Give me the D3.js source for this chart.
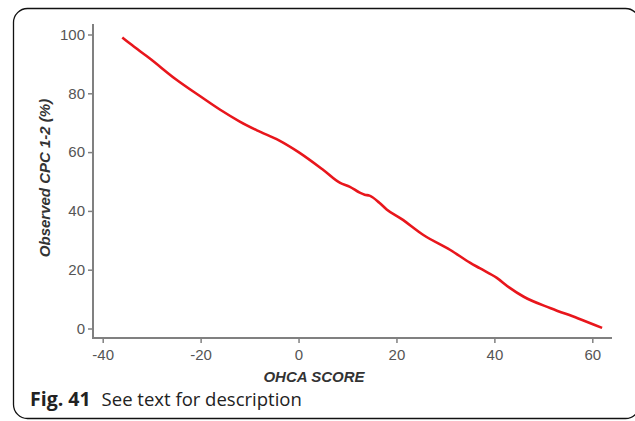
<!DOCTYPE html>
<html><head><meta charset="utf-8">
<script src="https://cdn.jsdelivr.net/npm/d3@7"></script>
<style>html,body{margin:0;padding:0;background:#fff;}svg{display:block;}</style>
</head><body>
<svg id="c" width="635" height="421"></svg>
<script>
const scoreX = [-36, -34.5, -30.5, -25, -20, -16, -12, -8.5, -4, 0, 5, 8.5, 10.5, 12.5, 13.5, 14.5, 16.5, 18, 21, 25.5, 31, 35, 37, 40.5, 43, 46, 51.5, 57, 62];
const cpcY   = [99, 97, 92, 84.7, 78.9, 74.4, 70.4, 67.4, 64, 60, 54, 49.5, 48.2, 46.2, 45.5, 45.2, 42.8, 40.5, 37.3, 31.8, 26.7, 22.4, 20.5, 17.2, 14, 10.8, 6.9, 3.5, 0.2];
const xTicks = [-40, -20, 0, 20, 40, 60];
const yTicks = [0, 20, 40, 60, 80, 100];
const xTitle = "OHCA SCORE";
const yTitle = "Observed CPC 1-2 (%)";
const captionBold = "Fig. 41";
const captionText = "See text for description";

const svg = d3.select("#c");
svg.append("rect").attr("x", 13.5).attr("y", 8.5).attr("width", 626).attr("height", 410)
  .attr("rx", 14).attr("fill", "none").attr("stroke", "#111").attr("stroke-width", 1.3);

const x = d3.scaleLinear().domain([-40, 60]).range([102.7, 592.3]);
const y = d3.scaleLinear().domain([0, 100]).range([328.5, 34.5]);
const axisColor = "#808080";
const labelColor = "#555";
const fmt = d => String(d);

svg.append("line").attr("x1", 93).attr("x2", 93).attr("y1", 24).attr("y2", 338.5)
  .attr("stroke", axisColor).attr("stroke-width", 2);
svg.append("line").attr("x1", 92).attr("x2", 612).attr("y1", 338).attr("y2", 338)
  .attr("stroke", axisColor).attr("stroke-width", 2);

const xAxis = svg.append("g").attr("transform", "translate(0,338)")
  .call(d3.axisBottom(x).tickValues(xTicks).tickSize(5).tickPadding(6).tickFormat(fmt));
xAxis.select(".domain").remove();
xAxis.selectAll("line").attr("stroke", axisColor).attr("stroke-width", 1.5);
xAxis.selectAll("text").attr("fill", labelColor).attr("font-family", "Arial, 'Liberation Sans', sans-serif").attr("font-size", 15);

const yAxis = svg.append("g").attr("transform", "translate(93,0)")
  .call(d3.axisLeft(y).tickValues(yTicks).tickSize(5).tickPadding(3).tickFormat(fmt));
yAxis.select(".domain").remove();
yAxis.selectAll("line").attr("stroke", axisColor).attr("stroke-width", 1.5);
yAxis.selectAll("text").attr("fill", labelColor).attr("font-family", "Arial, 'Liberation Sans', sans-serif").attr("font-size", 15);

svg.append("text").attr("x", 314).attr("y", 382).attr("text-anchor", "middle")
  .attr("font-family", "Arial, 'Liberation Sans', sans-serif").attr("font-size", 15)
  .attr("font-weight", "bold").attr("font-style", "italic").attr("fill", "#333").text(xTitle);

svg.append("text").attr("transform", "translate(50,178) rotate(-90)").attr("text-anchor", "middle")
  .attr("font-family", "Arial, 'Liberation Sans', sans-serif").attr("font-size", 15)
  .attr("font-weight", "bold").attr("font-style", "italic").attr("fill", "#333").text(yTitle);

const data = scoreX.map((v, i) => [v, cpcY[i]]);
svg.append("path").datum(data)
  .attr("d", d3.line().x(d => x(d[0])).y(d => y(d[1])).curve(d3.curveMonotoneX))
  .attr("fill", "none").attr("stroke", "#e8161c").attr("stroke-width", 2.6).attr("stroke-linejoin", "round");

const cap = svg.append("text").attr("x", 30).attr("y", 406)
  .attr("font-family", "'Open Sans', 'Noto Sans', sans-serif").attr("font-size", 18.5).attr("fill", "#222");
cap.append("tspan").attr("font-weight", "bold").attr("font-size", 19.5).text(captionBold);
cap.append("tspan").attr("dx", 11).text(captionText);
</script>
</body></html>
